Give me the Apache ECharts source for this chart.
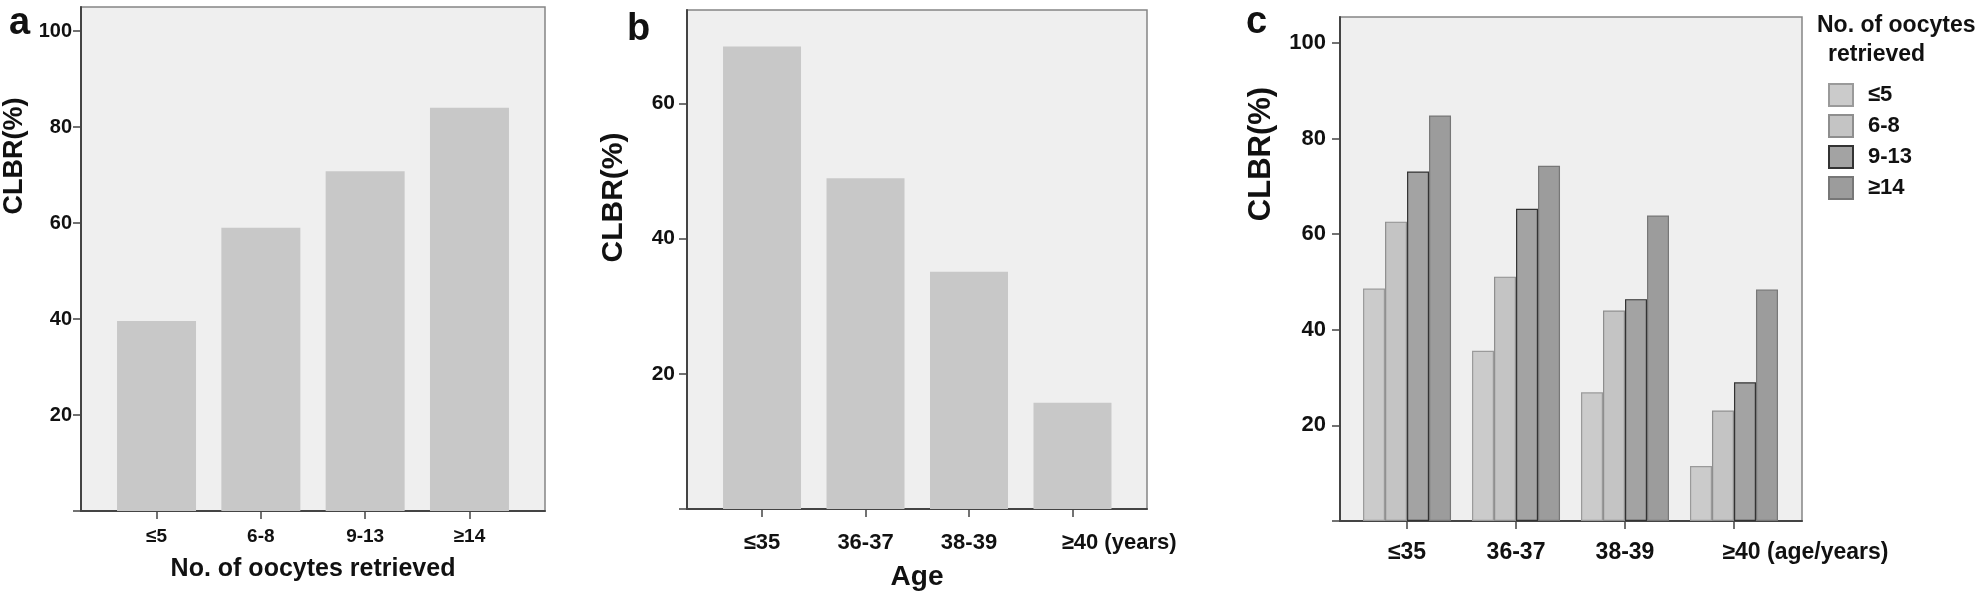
<!DOCTYPE html>
<html>
<head>
<meta charset="utf-8">
<script src="https://cdn.jsdelivr.net/npm/echarts@6/dist/echarts.min.js"></script>
<style>
html,body{margin:0;padding:0;background:#fff;}
#chart{width:1982px;height:600px;}
</style>
</head>
<body>
<div id="chart"></div>
<script>
// ---- data ----
const aCats = ['≤5', '6-8', '9-13', '≥14'];
const aValues = [39.6, 59.0, 70.8, 84.0];
const bCats = ['≤35', '36-37', '38-39', '≥40 (years)'];
const bValues = [68.4, 48.9, 35.1, 15.7];
const cCats = ['≤35', '36-37', '38-39', '≥40 (age/years)'];
const cSeriesNames = ['≤5', '6-8', '9-13', '≥14'];
const cLe5 = [48.6, 35.6, 26.9, 11.5];
const c6to8 = [62.6, 51.1, 44.0, 23.1];
const c9to13 = [73.1, 65.3, 46.4, 29.0];
const cGe14 = [84.8, 74.3, 63.9, 48.4];
const yTicksAC = [20, 40, 60, 80, 100];
const yTicksB = [20, 40, 60];
const catPositions = [0, 1, 2, 3];

const FONT = 'Liberation Sans';
const TXT = '#111';
const AXIS = '#444';

function pts(vals) { return vals.map((v, i) => [catPositions[i], v]); }

// labels with a unit suffix: main part is centred on the tick, suffix spills to the right
function xLabelFormatter(cats) {
  return function (v) {
    const i = Math.round(v);
    const lab = cats[i];
    if (lab === undefined) return '';
    const k = lab.indexOf(' (');
    if (k >= 0) return '{pad| }{m|' + lab.slice(0, k) + '}{suf|' + lab.slice(k) + '}';
    return lab;
  };
}

function makeX(idx, cats, min, max, fs, margin, name, nameFs, nameGap) {
  const base = { fontFamily: FONT, fontWeight: 'bold', fontSize: fs, color: TXT };
  return {
    type: 'value', gridIndex: idx, min: min, max: max,
    splitLine: { show: false },
    axisLine: { show: true, onZero: false, lineStyle: { color: AXIS, width: 2 } },
    axisTick: { show: true, customValues: catPositions, length: 8, lineStyle: { color: AXIS, width: 1.5 } },
    axisLabel: Object.assign({
      customValues: catPositions, formatter: xLabelFormatter(cats), margin: margin,
      hideOverlap: false,
      rich: {
        pad: Object.assign({ width: 16, align: 'left' }, base),
        m: Object.assign({ align: 'left' }, base),
        suf: Object.assign({ width: 1, align: 'left' }, base)
      }
    }, base),
    name: name, nameLocation: 'middle', nameGap: nameGap,
    nameTextStyle: { fontFamily: FONT, fontWeight: 'bold', fontSize: nameFs, color: TXT }
  };
}

function makeY(idx, max, ticks, fs, margin, nameFs, nameGap, shiftPad) {
  return {
    type: 'value', gridIndex: idx, min: 0, max: max,
    splitLine: { show: false },
    axisLine: { show: true, onZero: false, lineStyle: { color: AXIS, width: 2 } },
    axisTick: { show: true, customValues: [0].concat(ticks), length: 8, lineStyle: { color: AXIS, width: 1.5 } },
    axisLabel: { customValues: ticks, margin: margin, hideOverlap: false, fontFamily: FONT, fontWeight: 'bold', fontSize: fs, color: TXT },
    name: 'CLBR(%)', nameLocation: 'middle', nameGap: nameGap, nameRotate: 90,
    nameTextStyle: { fontFamily: FONT, fontWeight: 'bold', fontSize: nameFs, color: TXT, padding: [0, 0, 0, shiftPad] }
  };
}

const gridStyle = { show: true, backgroundColor: '#efefef', borderColor: '#858585', borderWidth: 1.5 };

const cColors = ['#cbcbcb', '#c4c4c4', '#a3a3a3', '#9c9c9c'];
const cBorders = ['#9a9a9a', '#8e8e8e', '#333333', '#777777'];
const cData = [cLe5, c6to8, c9to13, cGe14];

const option = {
  animation: false,
  title: [
    { text: 'a', left: 4, top: 0, textStyle: { fontFamily: FONT, fontWeight: 'bold', fontSize: 38, color: TXT } },
    { text: 'b', left: 622, top: 6, textStyle: { fontFamily: FONT, fontWeight: 'bold', fontSize: 38, color: TXT } },
    { text: 'c', left: 1241, top: -1, textStyle: { fontFamily: FONT, fontWeight: 'bold', fontSize: 38, color: TXT } },
    { text: '{l1|No. of oocytes}\n{l2|retrieved}', left: 1817, top: 11, padding: 0,
      textStyle: { rich: {
        l1: { fontFamily: FONT, fontWeight: 'bold', fontSize: 23, color: TXT, lineHeight: 29 },
        l2: { fontFamily: FONT, fontWeight: 'bold', fontSize: 23, color: TXT, lineHeight: 29, padding: [0, 0, 0, 11] }
      } } }
  ],
  legend: {
    data: cSeriesNames, orient: 'vertical', left: 1828, top: 83, padding: 0,
    itemWidth: 24, itemHeight: 22, itemGap: 7, icon: 'rect', selectedMode: false,
    textStyle: { fontFamily: FONT, fontWeight: 'bold', fontSize: 22, color: TXT, padding: [0, 0, 0, 10] }
  },
  grid: [
    Object.assign({ left: 81, top: 7, width: 464, height: 504 }, gridStyle),
    Object.assign({ left: 687, top: 10, width: 460, height: 499 }, gridStyle),
    Object.assign({ left: 1340, top: 17, width: 462, height: 504 }, gridStyle)
  ],
  xAxis: [
    makeX(0, aCats, -0.724, 3.724, 19, 16, 'No. of oocytes retrieved', 25, 46),
    makeX(1, bCats, -0.725, 3.72, 22, 23, 'Age', 28, 54),
    makeX(2, cCats, -0.615, 3.624, 23, 20, '', 23, 50)
  ],
  yAxis: [
    makeY(0, 105, yTicksAC, 20, 9, 27, 53, 206),
    makeY(1, 73.8, yTicksB, 21, 12, 30, 58, 124),
    makeY(2, 105.4, yTicksAC, 22, 14, 31, 63, 230)
  ],
  series: [
    { type: 'bar', xAxisIndex: 0, yAxisIndex: 0, data: pts(aValues), barWidth: 79,
      itemStyle: { color: '#c8c8c8' } },
    { type: 'bar', xAxisIndex: 1, yAxisIndex: 1, data: pts(bValues), barWidth: 78,
      itemStyle: { color: '#c8c8c8' } }
  ].concat(cData.map((vals, k) => ({
    type: 'bar', name: cSeriesNames[k], xAxisIndex: 2, yAxisIndex: 2, data: pts(vals),
    barWidth: 22, barGap: '0%',
    itemStyle: { color: cColors[k], borderColor: cBorders[k], borderWidth: 1.2 }
  })))
};

const chart = echarts.init(document.getElementById('chart'), null, { renderer: 'canvas' });
chart.setOption(option);
</script>
</body>
</html>
